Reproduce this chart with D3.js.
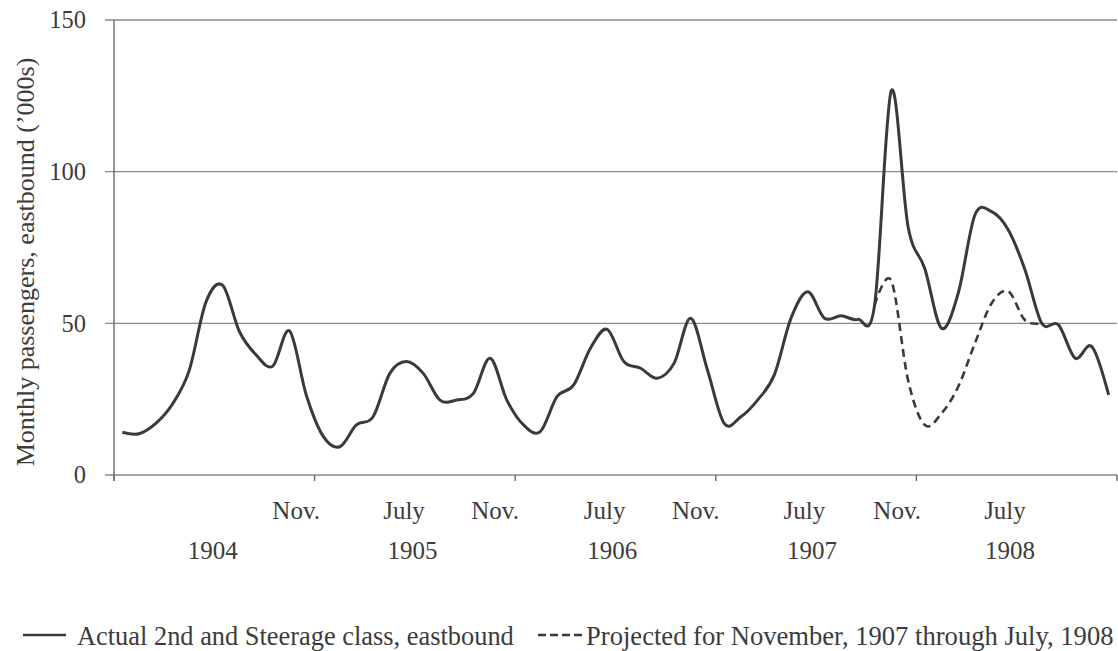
<!DOCTYPE html>
<html>
<head>
<meta charset="utf-8">
<script src="https://cdn.jsdelivr.net/npm/d3@7"></script>
</head>
<body style="margin:0">
<div id="chart"></div>
<script>
// monthly passengers ('000s), Jan 1904 .. Dec 1908
const actual = [14.1,13.6,17,23.4,34.5,57,62.5,47.3,39.6,35.9,47.5,26.4,
  12.9,9.3,16.5,19.2,33.5,37.4,33.5,24.7,24.7,26.9,38.5,24.7,
  16.5,14.3,25.8,29.7,41.8,48,37.4,35.2,31.9,36.8,51.7,34.6,
  17,19.2,24.7,33,51.7,60.4,51.7,52.5,51.3,56,126.7,81.9,
  68.1,48.4,59.9,85.7,86.8,80.8,67.6,50,49.5,38.5,42.3,26.4];
// projected Nov 1907 .. July 1908 (joined to actual at Oct 1907 and Aug 1908)
const projStart = 45;
const projected = [56,64,31.3,16.5,20.3,29.1,43.4,56.6,60.5,51,50];

const yTicks = [0,50,100,150];
const yearTicks = [0,12,24,36,48,60];
const monthLabels = ["Nov.","July","Nov.","July","Nov.","July","Nov.","July"];
const monthLabelAt = [10.9,17.35,22.8,29.35,34.8,41.3,46.85,53.3];
const yearLabels = ["1904","1905","1906","1907","1908"];
const yearLabelAt = [5.9,17.85,29.8,41.75,53.6];

const W = 1118, H = 651;
const INK = "#3c3c3c";
const svg = d3.select("#chart").append("svg").attr("width",W).attr("height",H);

let x = d3.scaleLinear().domain([0,60]).range([114,1117]);
let y = d3.scaleLinear().domain([0,150]).range([475,20]);

function label(sel, size){
  return sel.style("font-family","'Liberation Serif'").attr("font-size",size).attr("fill",INK);
}

// grid + y ticks
svg.append("g").selectAll("line").data(yTicks).enter().append("line")
  .attr("x1",105).attr("x2",x(60))
  .attr("y1",d=>y(d)).attr("y2",d=>y(d))
  .attr("stroke","#8a8a8a").attr("stroke-width",1.4);

label(svg.append("g").selectAll("text").data(yTicks).enter().append("text")
  .attr("x",86).attr("y",d=>y(d)).attr("dy","0.34em")
  .attr("text-anchor","end"),24.5).text(d=>d);

// y axis
svg.append("line").attr("x1",x(0)).attr("x2",x(0)).attr("y1",y(150)).attr("y2",y(0)+6)
  .attr("stroke","#6a6a6a").attr("stroke-width",1.4);

// x axis ticks
svg.append("g").selectAll("line").data(yearTicks).enter().append("line")
  .attr("x1",d=>x(d)).attr("x2",d=>x(d)).attr("y1",y(0)).attr("y2",y(0)+6)
  .attr("stroke","#6a6a6a").attr("stroke-width",1.4);

label(svg.append("g").selectAll("text").data(monthLabels).enter().append("text")
  .attr("x",(d,i)=>x(monthLabelAt[i])).attr("y",519)
  .attr("text-anchor","middle"),25).text(d=>d);

label(svg.append("g").selectAll("text").data(yearLabels).enter().append("text")
  .attr("x",(d,i)=>x(yearLabelAt[i])).attr("y",559)
  .attr("text-anchor","middle"),25).text(d=>d);

// y title
label(svg.append("text").attr("transform","translate(34,262) rotate(-90)")
  .attr("text-anchor","middle"),26)
  .text("Monthly passengers, eastbound (\u2019000s)");

// lines
const line = d3.line().x(d=>x(d[0]+0.5)).y(d=>y(d[1])).curve(d3.curveCardinal.tension(0));

svg.append("path").datum(projected.map((v,i)=>[projStart+i,v]))
  .attr("d",line).attr("fill","none").attr("stroke","#3a3a3a")
  .attr("stroke-width",2.6).attr("stroke-dasharray","8,5");

svg.append("path").datum(actual.map((v,i)=>[i,v]))
  .attr("d",line).attr("fill","none").attr("stroke","#3a3a3a")
  .attr("stroke-width",3).attr("stroke-linejoin","round");

// legend
const lg = svg.append("g");
lg.append("line").attr("x1",23).attr("x2",66).attr("y1",635).attr("y2",635)
  .attr("stroke","#3a3a3a").attr("stroke-width",2.6);
label(lg.append("text").attr("x",77).attr("y",645),26.4)
  .text("Actual 2nd and Steerage class, eastbound");
lg.append("line").attr("x1",538).attr("x2",582).attr("y1",635).attr("y2",635)
  .attr("stroke","#3a3a3a").attr("stroke-width",2.6).attr("stroke-dasharray","8,4");
label(lg.append("text").attr("x",586).attr("y",645),26.6)
  .text("Projected for November, 1907 through July, 1908");
</script>
</body>
</html>
